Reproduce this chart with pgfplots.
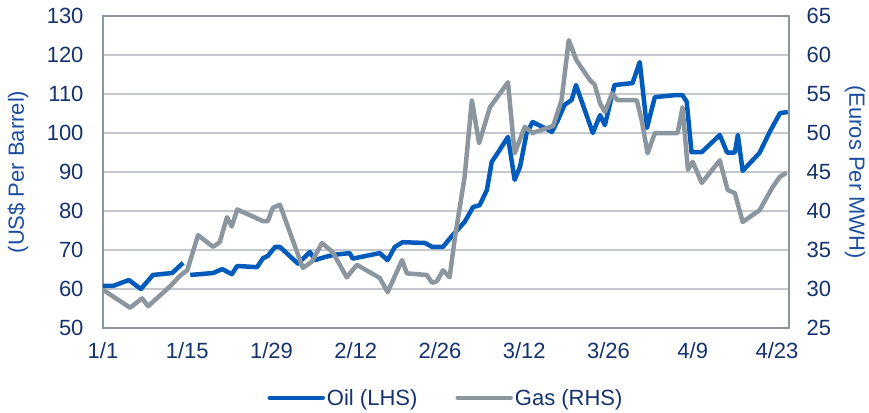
\documentclass[border=0pt]{standalone}
\usepackage{fontspec}
\setmainfont{Liberation Sans}
\usepackage{pgfplots}
\pgfplotsset{compat=1.18}
\definecolor{oilblue}{RGB}{0,91,187}
\definecolor{gasgray}{RGB}{140,150,158}
\definecolor{gridgray}{RGB}{196,200,205}
\definecolor{framegray}{RGB}{140,150,158}
\definecolor{navy}{RGB}{20,50,110}
\definecolor{labelblue}{RGB}{28,78,160}
\begin{document}
\begin{tikzpicture}[font=\fontsize{22bp}{26bp}\selectfont]
\pgfplotsset{
  common/.style={
    scale only axis, width=686bp, height=312bp, at={(0,0)}, anchor=south west,
    xmin=0, xmax=114,
    major tick length=0pt,
    axis line style={framegray, line width=1.6bp},
    tick label style={text=navy},
    /pgf/number format/assume math mode=true,
    clip=true,
  }
}
\begin{axis}[common,
  ymin=50, ymax=130, ytick={50,60,...,130},
  xtick={0,14,...,112},
  xticklabels={1/1,1/15,1/29,2/12,2/26,3/12,3/26,4/9,4/23},
  ymajorgrids, grid style={gridgray, line width=1.6bp},
  yticklabel style={xshift=-16bp},
  xticklabel style={yshift=-11bp},
  ylabel={(US\$ Per Barrel)},
  every axis y label/.style={at={(axis description cs:0,0.5)}, xshift=-85bp, rotate=90, anchor=center, text=labelblue},
  unbounded coords=jump,
]
\addplot[oilblue, line width=4.5bp, line join=round] coordinates {
(0,60.8) (1.7,60.8) (4.3,62.3) (6.3,60) (8.3,63.6) (11.5,64.1) (13.3,66.7)
(14,nan)
(14.5,63.6) (18.3,64.1) (19.8,65.1) (21.4,63.8) (22.3,65.9) (25.6,65.6) (26.6,67.9)
(27.4,68.5) (28.6,70.8) (29.4,70.8) (32.4,66.5) (34.4,69.5) (35.2,67.4) (36.9,68.2)
(38.5,68.8) (41.0,69.2) (41.5,67.8) (46.0,69.2) (47.3,67.4) (48.5,70.8) (49.8,72)
(53.5,71.8) (54.7,70.8) (56.5,70.8) (58.1,73.8) (60.1,77.2) (61.5,81) (62.6,81.5)
(63.8,85.4) (64.6,92.6) (65.6,94.9) (67.3,99) (68.4,88) (69.3,91.3) (70.4,100)
(71.4,102.8) (73.1,101.5) (74.6,100.3) (75.6,103.3) (76.7,107.2) (77.9,108.5) (78.6,112.3)
(81.4,100) (82.6,104.6) (83.4,102) (85.0,112.3) (88.0,112.8) (89.2,118.2) (90.4,101.3)
(91.7,109.2) (95.0,109.7) (96.3,109.7) (97.0,108) (97.8,95.1) (99.5,95.1) (102.5,99.5)
(103.7,95) (105.0,95) (105.5,99.5) (106.3,90.3) (109.1,94.9) (110.8,100.3) (112.5,105.1)
(113.8,105.4)
};
\end{axis}
\begin{axis}[common,
  ymin=25, ymax=65, ytick={25,30,...,65},
  hide x axis,
  axis y line*=right,
  yticklabel style={xshift=14bp},
  ylabel={(Euros Per MWH)},
  every axis y label/.style={at={(axis description cs:1,0.5)}, xshift=66bp, rotate=-90, anchor=center, text=labelblue},
  legend style={at={(axis description cs:0.5,-0.224)}, anchor=center, draw=none, fill=none,
    legend columns=2, text=navy, font=\fontsize{22bp}{26bp}\selectfont,
    /tikz/every even column/.append style={column sep=36bp},
    nodes={inner sep=2bp}},
  legend image code/.code={\draw[#1, line cap=round] (0bp,0bp) -- (53bp,0bp);},
]
\addlegendimage{oilblue, line width=4.5bp}
\addlegendentry{Oil (LHS)}
\addplot[gasgray, line width=4.5bp, line join=round] coordinates {
(0,29.9) (4.5,27.6) (6.5,28.8) (7.5,27.8) (11.1,30.3) (12.8,31.7) (14.0,32.4)
(15.8,36.9) (18.3,35.4) (19.4,36) (20.6,39.2) (21.4,38) (22.3,40.2) (26.6,38.7)
(27.4,38.7) (28.2,40.4) (29.4,40.8) (33.2,32.7) (34.7,33.5) (36.4,35.9) (38.2,34.7)
(40.5,31.5) (42.2,33.1) (46.0,31.4) (47.3,29.6) (49.7,33.7) (50.5,32) (53.8,31.8)
(54.7,30.8) (55.5,31) (56.5,32.4) (57.6,31.5) (58.5,36.7) (60.1,44.4) (61.3,54.2)
(62.5,48.7) (64.3,53.3) (67.3,56.5) (68.4,47.4) (70.1,50.8) (71.4,50) (74.8,50.9)
(76.2,54.2) (77.4,61.9) (78.7,59.3) (80.9,56.8) (81.7,56.2) (82.6,53.8) (83.4,52.7)
(84.6,55.1) (85.5,54.2) (88.7,54.2) (89.5,51.7) (90.5,47.4) (91.7,50) (94.7,50)
(95.5,50) (96.3,53.3) (97.2,45.3) (98.0,46.3) (99.5,43.6) (102.5,46.5) (103.8,42.7)
(105.0,42.3) (106.3,38.6) (109.1,40.1) (111.3,43.1) (112.5,44.4) (113.6,44.9)
};
\addlegendentry{Gas (RHS)}
\end{axis}
\pgfresetboundingbox
\useasboundingbox (-103bp,-85bp) rectangle (766bp,328bp);
\end{tikzpicture}
\end{document}
